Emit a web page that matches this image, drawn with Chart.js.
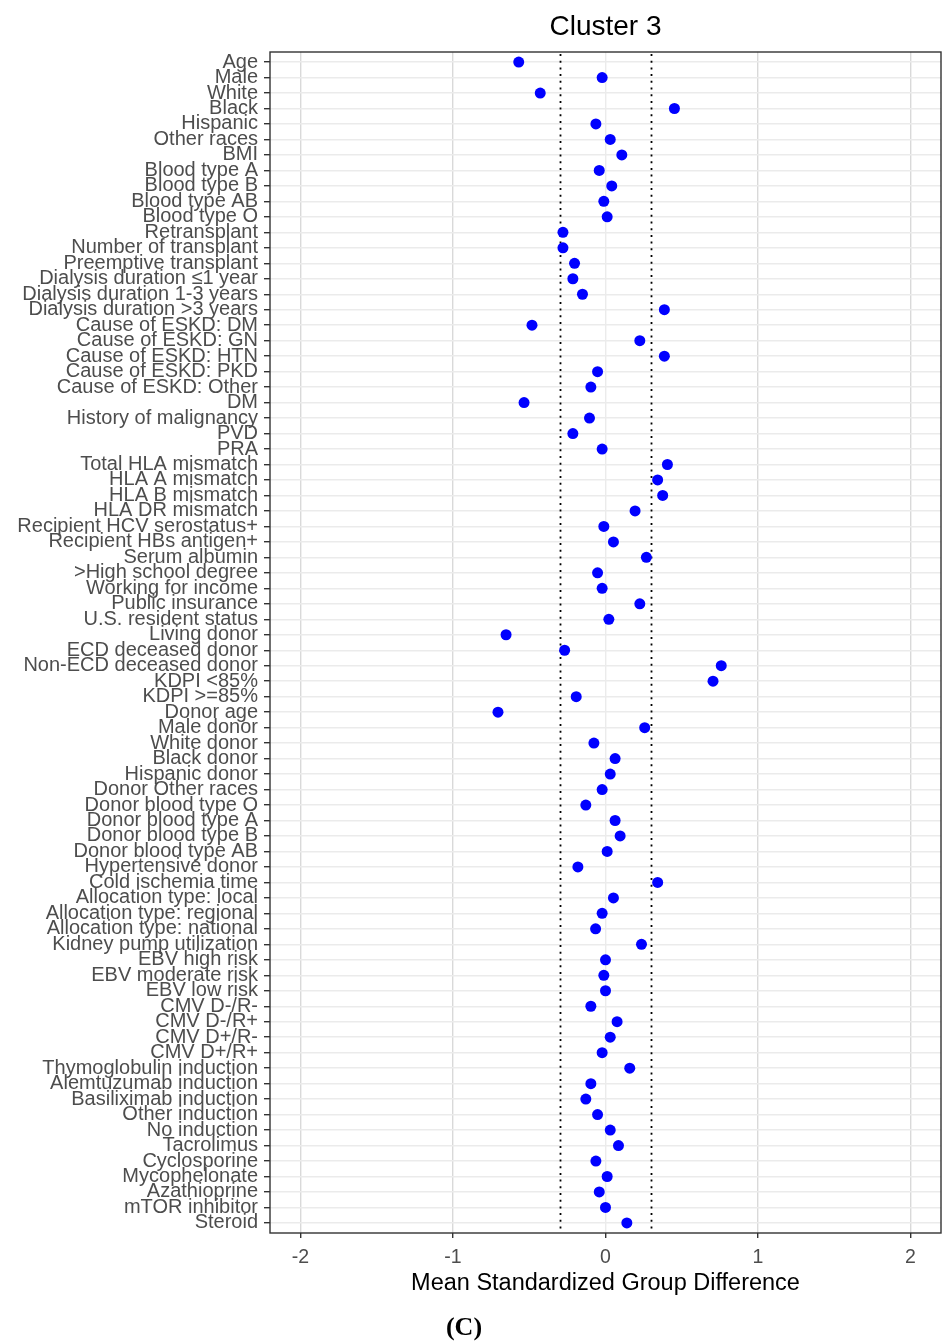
<!DOCTYPE html>
<html>
<head>
<meta charset="utf-8">
<title>Cluster 3</title>
<script src="https://cdn.jsdelivr.net/npm/chart.js@4.4.1/dist/chart.umd.min.js"></script>
<style>
  html, body { margin: 0; padding: 0; background: #ffffff; }
  #wrap { width: 942px; height: 1342px; position: relative; }
  canvas { display: block; }
</style>
</head>
<body>
<div id="wrap"><canvas id="chart" width="942" height="1342"></canvas></div>
<script>
// Covariates, top to bottom
const categories = [
  "Age", "Male", "White", "Black", "Hispanic", "Other races", "BMI",
  "Blood type A", "Blood type B", "Blood type AB", "Blood type O",
  "Retransplant", "Number of transplant", "Preemptive transplant",
  "Dialysis duration \u22641 year", "Dialysis duration 1-3 years", "Dialysis duration >3 years",
  "Cause of ESKD: DM", "Cause of ESKD: GN", "Cause of ESKD: HTN", "Cause of ESKD: PKD", "Cause of ESKD: Other",
  "DM", "History of malignancy", "PVD", "PRA",
  "Total HLA mismatch", "HLA A mismatch", "HLA B mismatch", "HLA DR mismatch",
  "Recipient HCV serostatus+", "Recipient HBs antigen+", "Serum albumin",
  ">High school degree", "Working for income", "Public insurance", "U.S. resident status",
  "Living donor", "ECD deceased donor", "Non-ECD deceased donor", "KDPI <85%", "KDPI >=85%",
  "Donor age", "Male donor", "White donor", "Black donor", "Hispanic donor", "Donor Other races",
  "Donor blood type O", "Donor blood type A", "Donor blood type B", "Donor blood type AB",
  "Hypertensive donor", "Cold ischemia time",
  "Allocation type: local", "Allocation type: regional", "Allocation type: national",
  "Kidney pump utilization", "EBV high risk", "EBV moderate risk", "EBV low risk",
  "CMV D-/R-", "CMV D-/R+", "CMV D+/R-", "CMV D+/R+",
  "Thymoglobulin induction", "Alemtuzumab induction", "Basiliximab induction", "Other induction", "No induction",
  "Tacrolimus", "Cyclosporine", "Mycophelonate", "Azathioprine", "mTOR inhibitor", "Steroid"
];

// Mean standardized group difference for each covariate
const smd = [
  -0.569, -0.022, -0.428, 0.452, -0.063, 0.031, 0.107,
  -0.041, 0.041, -0.011, 0.011,
  -0.279, -0.279, -0.203,
  -0.214, -0.151, 0.386,
  -0.482, 0.225, 0.386, -0.052, -0.096,
  -0.534, -0.105, -0.214, -0.022,
  0.406, 0.342, 0.375, 0.194,
  -0.011, 0.052, 0.268,
  -0.052, -0.022, 0.225, 0.022,
  -0.652, -0.268, 0.759, 0.705, -0.192,
  -0.705, 0.257, -0.076, 0.063, 0.031, -0.022,
  -0.129, 0.063, 0.096, 0.011,
  -0.181, 0.342,
  0.052, -0.022, -0.065,
  0.236, 0.000, -0.011, 0.000,
  -0.096, 0.076, 0.031, -0.022,
  0.159, -0.096, -0.129, -0.052, 0.031,
  0.085, -0.063, 0.011, -0.041, 0.000, 0.140
];

const xTicks = [-2, -1, 0, 1, 2];
const thresholds = [-0.3, 0.3];

const chartTitle = "Cluster 3";
const xTitle = "Mean Standardized Group Difference";
const panelTag = "(C)";

Chart.defaults.font.family = "'Liberation Sans', Arial, Helvetica, sans-serif";

// Panel frame, threshold lines, title and panel tag
const decorations = {
  id: 'decorations',
  beforeDatasetsDraw(chart) {
    const { ctx, chartArea: a, scales: { x } } = chart;
    ctx.save();
    ctx.strokeStyle = '#000000';
    ctx.lineWidth = 1.8;
    ctx.setLineDash([2, 4.7]);
    thresholds.forEach(t => {
      const px = Math.round(x.getPixelForValue(t)) + 0.5;
      ctx.beginPath();
      ctx.moveTo(px, a.top + 2);
      ctx.lineTo(px, a.bottom);
      ctx.stroke();
    });
    ctx.restore();
  },
  afterDraw(chart) {
    const { ctx, chartArea: a } = chart;
    ctx.save();
    ctx.strokeStyle = '#333333';
    ctx.lineWidth = 1.4;
    ctx.strokeRect(a.left, a.top, a.right - a.left, a.bottom - a.top);

    ctx.fillStyle = '#000000';
    ctx.textAlign = 'center';
    ctx.textBaseline = 'alphabetic';
    ctx.font = "28px 'Liberation Sans', Arial, sans-serif";
    ctx.fillText(chartTitle, (a.left + a.right) / 2, 35);

    ctx.font = "bold 26px 'Liberation Serif', 'Times New Roman', serif";
    ctx.fillText(panelTag, 464, 1335);
    ctx.restore();
  }
};

new Chart(document.getElementById('chart'), {
  type: 'scatter',
  data: {
    datasets: [{
      data: smd.map((v, i) => ({ x: v, y: i })),
      backgroundColor: '#0000ff',
      borderWidth: 0,
      pointRadius: 5.5,
      pointHoverRadius: 5.5
    }]
  },
  options: {
    responsive: false,
    devicePixelRatio: 1,
    animation: false,
    layout: { autoPadding: false, padding: { left: 0, right: 1, top: 52, bottom: 42 } },
    plugins: {
      legend: { display: false },
      tooltip: { enabled: false },
      title: { display: false }
    },
    scales: {
      x: {
        type: 'linear',
        min: -2.2,
        max: 2.2,
        afterBuildTicks: axis => { axis.ticks = xTicks.map(v => ({ value: v })); },
        afterFit: axis => { axis.height = 67; axis.paddingLeft = 0; axis.paddingRight = 0; },
        border: { display: false },
        grid: {
          color: ctx => (ctx.tick && ctx.tick.value === 0) ? '#ebebeb' : '#d9d9d9',
          lineWidth: 1.4,
          tickColor: '#333333',
          tickLength: 5,
          tickWidth: 1.4
        },
        ticks: {
          color: '#4d4d4d',
          font: { size: 19.5 },
          padding: 8,
          maxRotation: 0,
          autoSkip: false,
          callback: v => String(v)
        },
        title: {
          display: true,
          text: xTitle,
          color: '#000000',
          font: { size: 23.5 },
          padding: { top: 0, bottom: 2 }
        }
      },
      y: {
        type: 'linear',
        reverse: true,
        min: -0.65,
        max: categories.length - 1 + 0.65,
        afterBuildTicks: axis => { axis.ticks = categories.map((_, i) => ({ value: i })); },
        afterFit: axis => { axis.width = 270; axis.paddingTop = 0; axis.paddingBottom = 0; },
        border: { display: false },
        grid: {
          color: '#ebebeb',
          lineWidth: 1.4,
          tickColor: '#333333',
          tickLength: 6,
          tickWidth: 1.4
        },
        ticks: {
          color: '#4d4d4d',
          font: { size: 20 },
          padding: 6,
          autoSkip: false,
          callback: v => categories[v] !== undefined ? categories[v] : ''
        }
      }
    }
  },
  plugins: [decorations]
});
</script>
</body>
</html>
